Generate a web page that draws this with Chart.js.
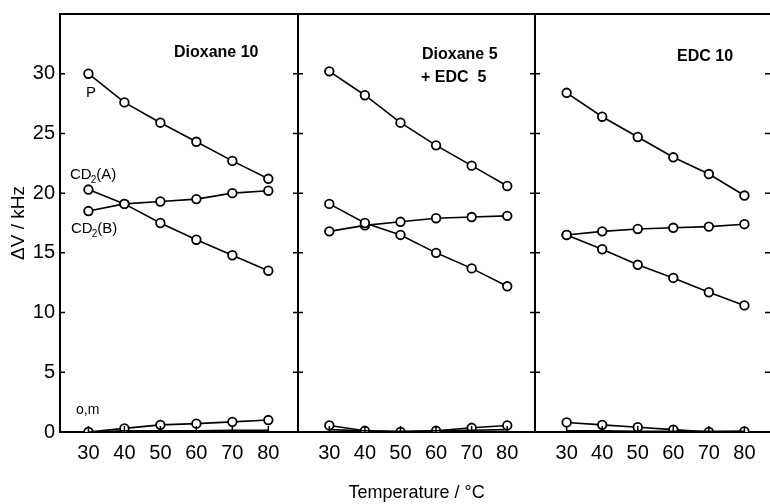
<!DOCTYPE html>
<html>
<head>
<meta charset="utf-8">
<script src="https://cdn.jsdelivr.net/npm/chart.js@4.4.1/dist/chart.umd.min.js"></script>
<style>
  html, body { margin: 0; padding: 0; background: #fff; }
  #wrap { width: 770px; height: 504px; }
</style>
</head>
<body>
<div id="wrap"><canvas id="chart"></canvas></div>
<script>
// temperatures (deg C) and y tick labels
const temps = [30, 40, 50, 60, 70, 80];
const yTicks = [0, 5, 10, 15, 20, 25, 30];

// P
const pDiox = [30.0, 27.6, 25.9, 24.3, 22.7, 21.2];
const pMix  = [30.2, 28.2, 25.9, 24.0, 22.3, 20.6];
const pEdc  = [28.4, 26.4, 24.7, 23.0, 21.6, 19.8];
// CD2(A)
const aDiox = [20.3, 19.1, 17.5, 16.1, 14.8, 13.5];
const aMix  = [19.1, 17.5, 16.5, 15.0, 13.7, 12.2];
const aEdc  = [16.5, 15.3, 14.0, 12.9, 11.7, 10.6];
// CD2(B)
const bDiox = [18.5, 19.1, 19.3, 19.5, 20.0, 20.2];
const bMix  = [16.8, 17.3, 17.6, 17.9, 18.0, 18.1];
const bEdc  = [16.5, 16.8, 17.0, 17.1, 17.2, 17.4];
// o (with markers) and m (line only, near zero)
const oDiox = [0.0, 0.3, 0.6, 0.7, 0.85, 1.0];
const oMix  = [0.55, 0.1, 0.0, 0.1, 0.35, 0.55];
const oEdc  = [0.8, 0.6, 0.4, 0.2, 0.0, 0.05];
const mDiox = [0.0, 0.1, 0.1, 0.1, 0.15, 0.15];
const mMix  = [0.2, 0.1, 0.05, 0.1, 0.15, 0.2];
const mEdc  = [0.1, 0.1, 0.05, 0.05, 0.05, 0.05];

const FONT = "'Liberation Sans', Arial, sans-serif";

const pts = arr => temps.map((t, i) => ({ x: t, y: arr[i] }));

const series = (axis, arr, markers) => ({
  data: pts(arr),
  xAxisID: axis,
  yAxisID: 'y',
  borderColor: '#000',
  borderWidth: 1.6,
  pointRadius: markers ? 4.3 : 0,
  pointBorderWidth: 1.8,
  pointBackgroundColor: '#fff',
  pointBorderColor: '#000',
  tension: 0,
  fill: false
});

const datasets = [
  series('x1', mDiox, false), series('x1', oDiox, true),
  series('x1', pDiox, true), series('x1', aDiox, true), series('x1', bDiox, true),
  series('x2', mMix, false), series('x2', oMix, true),
  series('x2', pMix, true), series('x2', aMix, true), series('x2', bMix, true),
  series('x3', mEdc, false), series('x3', oEdc, true),
  series('x3', pEdc, true), series('x3', aEdc, true), series('x3', bEdc, true)
];

const xAxis = (min, max, weight, title) => ({
  type: 'linear',
  position: 'bottom',
  stack: 'temp',
  stackWeight: weight,
  min: min,
  max: max,
  afterBuildTicks: s => { s.ticks = temps.map(v => ({ value: v })); },
  afterFit: s => { s.height = 72; s.paddingLeft = 0; s.paddingRight = 0; },
  grid: { display: false, drawTicks: false },
  border: { display: true, color: '#000', width: 2 },
  ticks: { color: '#000', padding: 9, font: { family: FONT, size: 20 }, maxRotation: 0 },
  title: {
    display: !!title, text: title, color: '#000',
    font: { family: FONT, size: 18 }, padding: 0
  }
});

// frame, inward ticks and text labels
const decor = {
  id: 'decor',
  afterDraw(chart) {
    const { ctx, chartArea: a, scales } = chart;
    const y = scales.y;
    ctx.save();
    ctx.strokeStyle = '#000';
    ctx.fillStyle = '#000';

    ctx.lineWidth = 1.8;
    ctx.beginPath();
    ctx.moveTo(a.left - 1, a.top);
    ctx.lineTo(a.right, a.top);
    ctx.stroke();

    const dividers = [scales.x1.right, scales.x2.right];
    ctx.lineWidth = 2;
    dividers.forEach(x => {
      ctx.beginPath();
      ctx.moveTo(x, a.top);
      ctx.lineTo(x, a.bottom);
      ctx.stroke();
    });

    ctx.lineWidth = 1.5;
    yTicks.slice(1).forEach(v => {
      const py = y.getPixelForValue(v);
      ctx.beginPath();
      ctx.moveTo(a.left, py); ctx.lineTo(a.left + 5, py);
      dividers.forEach(x => { ctx.moveTo(x - 5, py); ctx.lineTo(x + 5, py); });
      ctx.moveTo(a.right - 5, py); ctx.lineTo(a.right, py);
      ctx.stroke();
    });

    ['x1', 'x2', 'x3'].forEach(id => {
      temps.forEach(t => {
        const px = scales[id].getPixelForValue(t);
        ctx.beginPath();
        ctx.moveTo(px, a.bottom); ctx.lineTo(px, a.bottom - 6);
        ctx.stroke();
      });
    });

    // panel titles
    ctx.textBaseline = 'middle';
    ctx.textAlign = 'left';
    ctx.font = 'bold 16px ' + FONT;
    ctx.fillText('Dioxane 10', 174, 53);
    ctx.fillText('Dioxane 5', 422, 55);
    ctx.fillText('+ EDC  5', 421, 78);
    ctx.fillText('EDC 10', 677, 57);

    // curve labels
    ctx.font = '15px ' + FONT;
    ctx.fillText('P', 86, 93);
    const cd2 = (x, yy, tag) => {
      ctx.font = '15px ' + FONT;
      ctx.fillText('CD', x, yy);
      const w = ctx.measureText('CD').width;
      ctx.font = '10px ' + FONT;
      ctx.fillText('2', x + w - 1, yy + 5);
      const w2 = ctx.measureText('2').width;
      ctx.font = '15px ' + FONT;
      ctx.fillText(tag, x + w + w2 - 1, yy);
    };
    cd2(70, 175, '(A)');
    cd2(71, 229, '(B)');
    ctx.font = '14px ' + FONT;
    ctx.fillText('o,m', 76, 410);
    ctx.restore();
  }
};

new Chart(document.getElementById('chart'), {
  type: 'line',
  data: { datasets },
  options: {
    responsive: true,
    maintainAspectRatio: false,
    animation: false,
    layout: { autoPadding: false, padding: { top: 14, right: 0, bottom: 0, left: 0 } },
    plugins: { legend: { display: false }, tooltip: { enabled: false } },
    scales: {
      x1: xAxis(22.1, 88.25, 238, ''),
      x2: xAxis(21.2, 87.8, 237, 'Temperature / °C'),
      x3: xAxis(21.1, 87.2, 235, ''),
      y: {
        type: 'linear',
        position: 'left',
        min: 0,
        max: 35,
        afterBuildTicks: s => { s.ticks = yTicks.map(v => ({ value: v })); },
        afterFit: s => { s.width = 60; s.paddingTop = 0; s.paddingBottom = 0; },
        grid: { display: false, drawTicks: false },
        border: { display: true, color: '#000', width: 2 },
        ticks: { color: '#000', padding: 5, font: { family: FONT, size: 20 } },
        title: {
          display: true, text: 'ΔV / kHz', color: '#000',
          font: { family: FONT, size: 19 }, padding: { top: 7, bottom: 0 }
        }
      }
    }
  },
  plugins: [decor]
});
</script>
</body>
</html>
